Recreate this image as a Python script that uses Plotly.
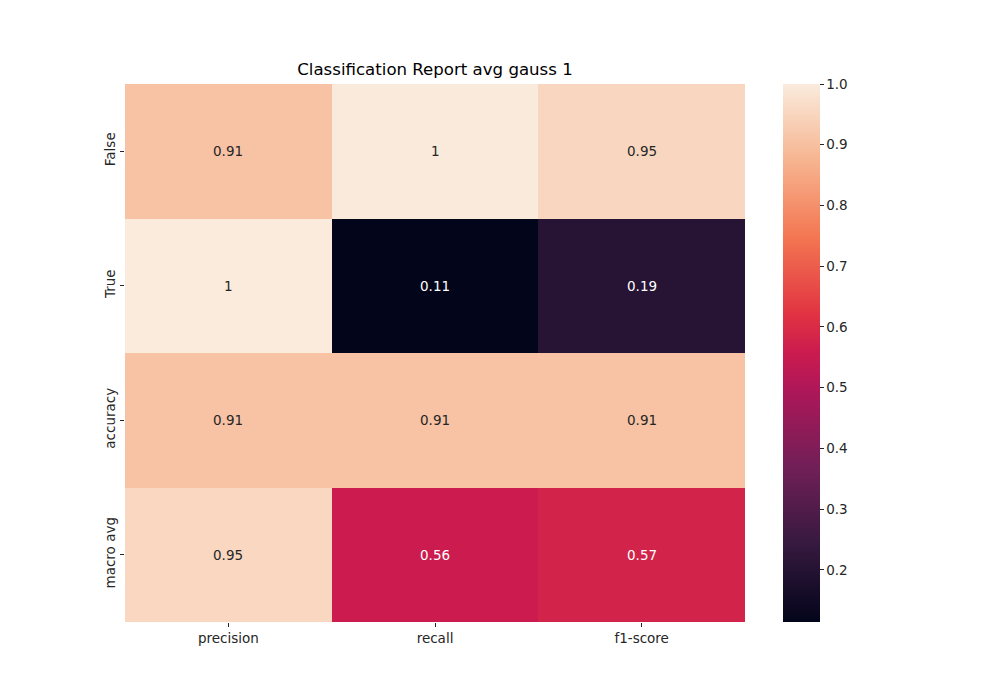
import plotly.graph_objects as go

rows = ["False", "True", "accuracy", "macro avg"]
cols = ["precision", "recall", "f1-score"]
values = [
    [0.908, 0.998, 0.951],
    [1.0, 0.114, 0.205],
    [0.908, 0.908, 0.908],
    [0.954, 0.556, 0.578],
]
labels = [
    ["0.91", "1", "0.95"],
    ["1", "0.11", "0.19"],
    ["0.91", "0.91", "0.91"],
    ["0.95", "0.56", "0.57"],
]
cbar_ticks = [0.2, 0.3, 0.4, 0.5, 0.6, 0.7, 0.8, 0.9, 1.0]

rocket = [
    [0.0, "#03051a"],
    [1/7, "#35193e"],
    [2/7, "#701f57"],
    [3/7, "#ad1759"],
    [0.5, "#cb1b4f"],
    [4/7, "#e13342"],
    [5/7, "#f37651"],
    [6/7, "#f6b48f"],
    [1.0, "#faebdd"],
]

zmin = min(min(r) for r in values)
zmax = max(max(r) for r in values)

fig = go.Figure(go.Heatmap(
    z=values, x=cols, y=rows,
    colorscale=rocket, zmin=zmin, zmax=zmax,
    xgap=0, ygap=0,
    colorbar=dict(
        x=1.0615, xanchor="left", y=0.5, yanchor="middle",
        len=1.0, lenmode="fraction", thickness=37, xpad=0, ypad=0,
        outlinewidth=0, ticks="outside", ticklen=4, tickwidth=1,
        tickcolor="#262626",
        tickvals=cbar_ticks, ticktext=[f"{t:.1f}" for t in cbar_ticks],
        tickfont=dict(family="DejaVu Sans", size=13.5, color="#262626"),
    ),
    hoverinfo="skip",
))

annotations = []
for i, r in enumerate(rows):
    for j, c in enumerate(cols):
        v = values[i][j]
        color = "white" if v < 0.6 else "#262626"
        annotations.append(dict(
            x=c, y=r, text=labels[i][j], showarrow=False,
            font=dict(family="DejaVu Sans", size=13.5, color=color),
        ))

fig.update_layout(
    width=1000, height=700,
    margin=dict(l=117, r=263, t=76, b=86),
    paper_bgcolor="white", plot_bgcolor="white",
    title=dict(text="Classification Report avg gauss 1", x=(117 + 310) / 1000,
               xanchor="center", y=1 - 61 / 700, yanchor="middle",
               font=dict(family="DejaVu Sans", size=16.6, color="black")),
    annotations=annotations,
    font=dict(family="DejaVu Sans", color="#262626"),
)
fig.update_xaxes(showgrid=False, zeroline=False, ticks="outside", ticklen=4,
                 tickcolor="#262626", showline=False,
                 tickfont=dict(family="DejaVu Sans", size=13.5, color="#262626"))
fig.update_yaxes(showgrid=False, zeroline=False, ticks="outside", ticklen=4,
                 tickcolor="#262626", showline=False, autorange="reversed",
                 tickangle=-90,
                 tickfont=dict(family="DejaVu Sans", size=13.5, color="#262626"))

fig.write_html("out.html")
